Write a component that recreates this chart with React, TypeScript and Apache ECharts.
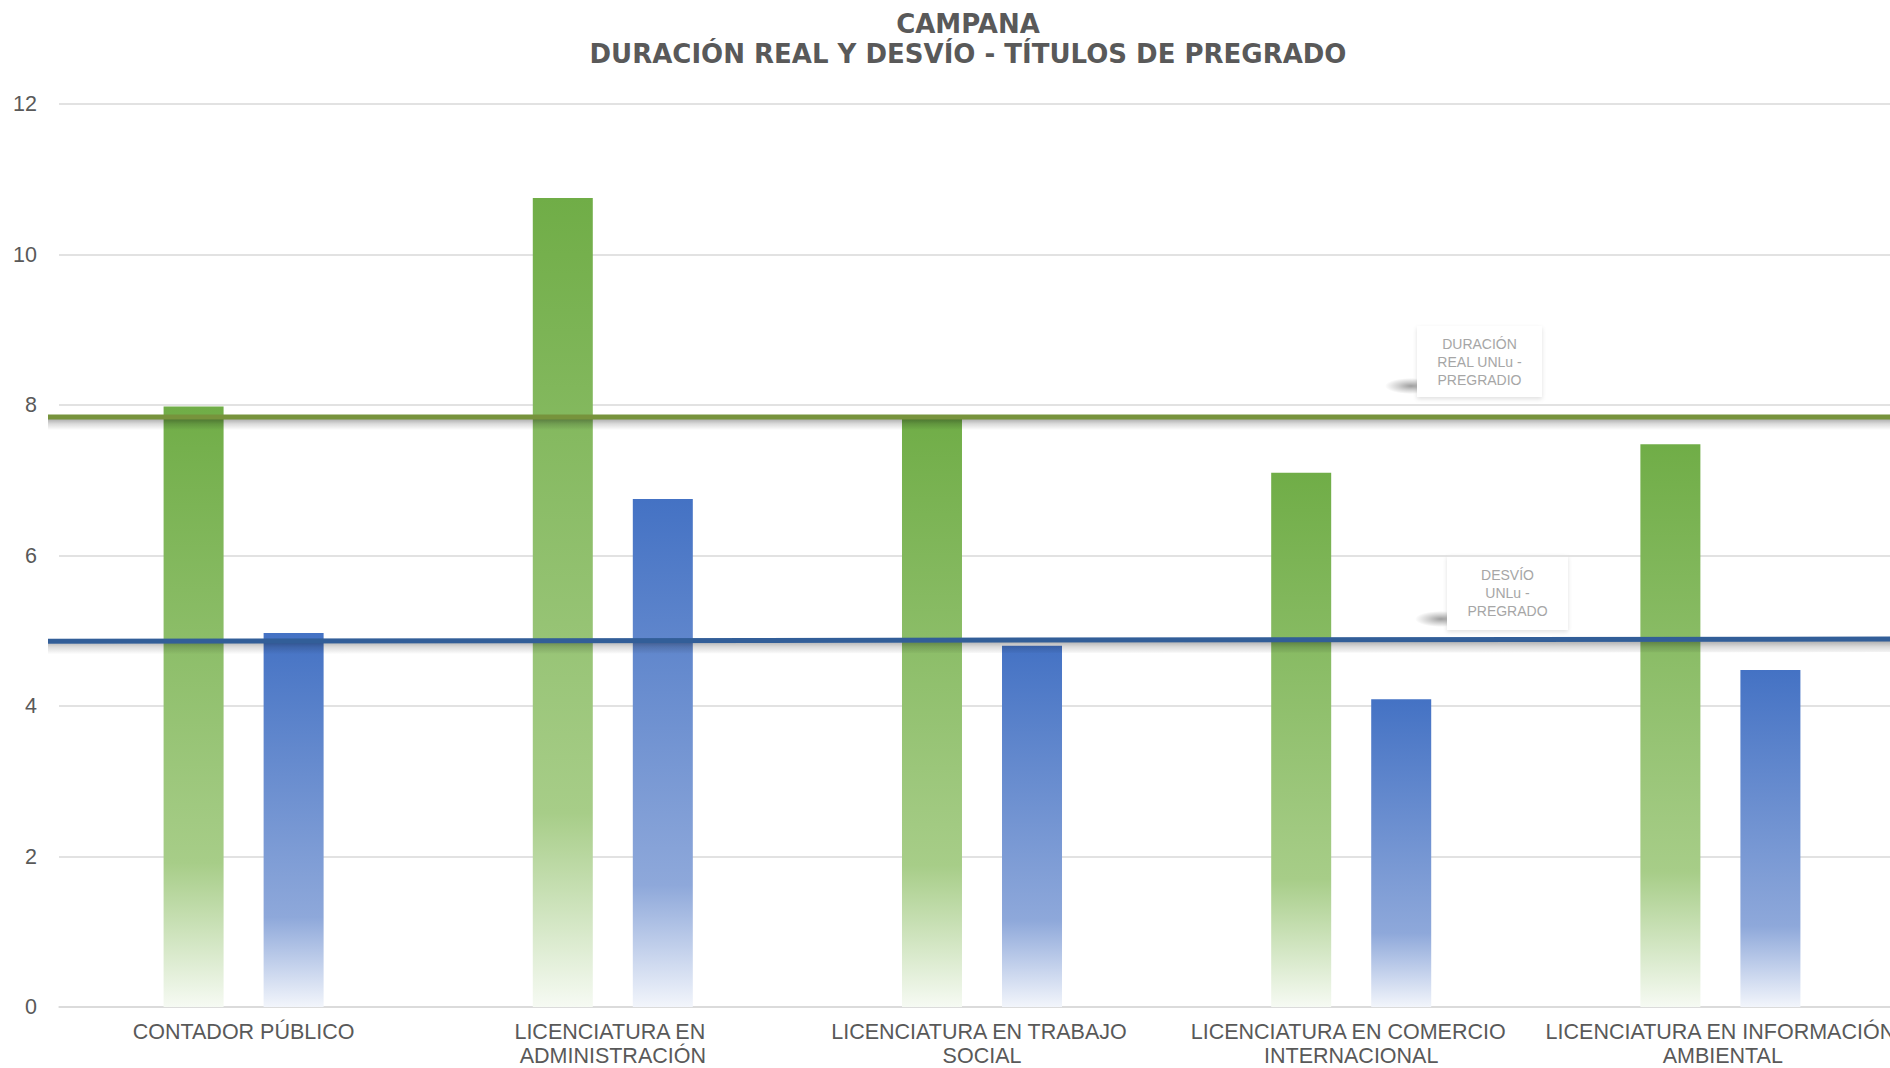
import React, { useEffect, useRef } from "react";
import * as echarts from "echarts";

const categories = [
  "CONTADOR PÚBLICO",
  "LICENCIATURA EN ADMINISTRACIÓN",
  "LICENCIATURA EN TRABAJO SOCIAL",
  "LICENCIATURA EN COMERCIO INTERNACIONAL",
  "LICENCIATURA EN INFORMACIÓN AMBIENTAL",
];
const duracionReal = [7.98, 10.75, 7.84, 7.1, 7.48];
const desvio = [4.97, 6.75, 4.8, 4.09, 4.48];
// reference lines: value at left end and at right end of the plot
const duracionUNLu = [7.84, 7.84];
const desvioUNLu = [4.86, 4.89];
const yTicks = { min: 0, max: 12, interval: 2 };
const titleText = "CAMPANA\nDURACIÓN REAL Y DESVÍO - TÍTULOS DE PREGRADO";
const noteDuracion = "DURACIÓN\nREAL UNLu -\nPREGRADIO";
const noteDesvio = "DESVÍO\nUNLu -\nPREGRADO";

const FONT = "'Liberation Sans', Arial, sans-serif";

function grad(top: string, mid: string, bottom: string) {
  return new echarts.graphic.LinearGradient(0, 0, 0, 1, [
    { offset: 0, color: top },
    { offset: 0.76, color: mid },
    { offset: 1, color: bottom },
  ]);
}

function note(x: number, y: number, w: number, h: number, text: string) {
  return {
    type: "group",
    x,
    y,
    z: 20,
    children: [
      {
        type: "ellipse",
        shape: { cx: -6, cy: h - 11, rx: 26, ry: 8 },
        style: {
          fill: new echarts.graphic.RadialGradient(0.5, 0.5, 0.5, [
            { offset: 0, color: "rgba(0,0,0,0.38)" },
            { offset: 0.5, color: "rgba(0,0,0,0.18)" },
            { offset: 1, color: "rgba(0,0,0,0)" },
          ]),
        },
      },
      {
        type: "rect",
        shape: { x: 0, y: 0, width: w, height: h },
        style: {
          fill: "#ffffff",
          shadowColor: "rgba(0,0,0,0.12)",
          shadowBlur: 4,
          shadowOffsetY: 2,
        },
      },
      {
        type: "text",
        x: w / 2,
        y: h / 2,
        style: {
          text,
          fill: "#A6A6A6",
          font: `14px ${FONT}`,
          lineHeight: 18,
          align: "center",
          verticalAlign: "middle",
        },
      },
    ],
  };
}

function refLine(name: string, vals: number[], color: string) {
  return {
    type: "custom",
    name,
    xAxisIndex: 1,
    silent: true,
    z: 5,
    data: [vals],
    renderItem: (params: any, api: any) => {
      const p0 = api.coord([0, api.value(0)]);
      const p1 = api.coord([1, api.value(1)]);
      const x0 = p0[0] - 11;
      return {
        type: "group",
        children: [
          {
            type: "polygon",
            shape: {
              points: [
                [x0, p0[1] + 2],
                [p1[0], p1[1] + 2],
                [p1[0], p1[1] + 13],
                [x0, p0[1] + 13],
              ],
            },
            style: {
              fill: new echarts.graphic.LinearGradient(0, 0, 0, 1, [
                { offset: 0, color: "rgba(0,0,0,0.32)" },
                { offset: 0.45, color: "rgba(0,0,0,0.14)" },
                { offset: 1, color: "rgba(0,0,0,0)" },
              ]),
            },
          },
          {
            type: "line",
            shape: { x1: x0, y1: p0[1], x2: p1[0], y2: p1[1] },
            style: { stroke: color, lineWidth: 5 },
          },
        ],
      };
    },
  };
}

export default function App() {
  const ref = useRef<HTMLDivElement>(null);
  useEffect(() => {
    if (!ref.current) return;
    const chart = echarts.init(ref.current, undefined, { renderer: "svg" });
    chart.setOption({
      animation: false,
      backgroundColor: "#ffffff",
      title: {
        text: titleText,
        left: 963,
        top: 4,
        textAlign: "center",
        textStyle: {
          fontFamily: "'DejaVu Sans', sans-serif",
          fontSize: 26,
          fontWeight: "bold",
          color: "#595959",
          lineHeight: 30,
        },
      },
      grid: { left: 59, right: 0, top: 104, bottom: 61, containLabel: false },
      xAxis: [
        {
          type: "category",
          data: categories,
          axisTick: { show: false },
          axisLine: { lineStyle: { color: "#D9D9D9", width: 1.5 } },
          axisLabel: {
            interval: 0,
            color: "#595959",
            fontFamily: FONT,
            fontSize: 21.5,
            lineHeight: 24,
            margin: 13,
            width: 360,
            overflow: "break",
          },
        },
        { type: "value", min: 0, max: 1, show: false },
      ],
      yAxis: {
        type: "value",
        min: yTicks.min,
        max: yTicks.max,
        interval: yTicks.interval,
        axisLine: { show: false },
        axisTick: { show: false },
        axisLabel: {
          color: "#595959",
          fontFamily: FONT,
          fontSize: 21.5,
          margin: 22,
        },
        splitLine: { lineStyle: { color: "#D9D9D9", width: 1.5 } },
      },
      series: [
        {
          type: "bar",
          name: "Duración real",
          data: duracionReal,
          barWidth: 60,
          barGap: "66.7%",
          itemStyle: { color: grad("#70AD47", "#A7CD88", "#F6FAF3") },
        },
        {
          type: "bar",
          name: "Desvío",
          data: desvio,
          barWidth: 60,
          barGap: "66.7%",
          itemStyle: { color: grad("#4472C4", "#8EA8DA", "#F2F5FB") },
        },
        refLine("Duración real UNLu - Pregrado", duracionUNLu, "#77933C"),
        refLine("Desvío UNLu - Pregrado", desvioUNLu, "#325E98"),
      ],
      graphic: [
        note(1417, 326, 125, 71, noteDuracion),
        note(1447, 555, 121, 75, noteDesvio),
      ],
    });
    return () => chart.dispose();
  }, []);
  return (
    <div
      style={{
        position: "fixed",
        left: 0,
        top: 0,
        width: 1890,
        height: 1068,
        overflow: "hidden",
      }}
    >
      <div ref={ref} style={{ width: 1905, height: 1068 }} />
    </div>
  );
}
